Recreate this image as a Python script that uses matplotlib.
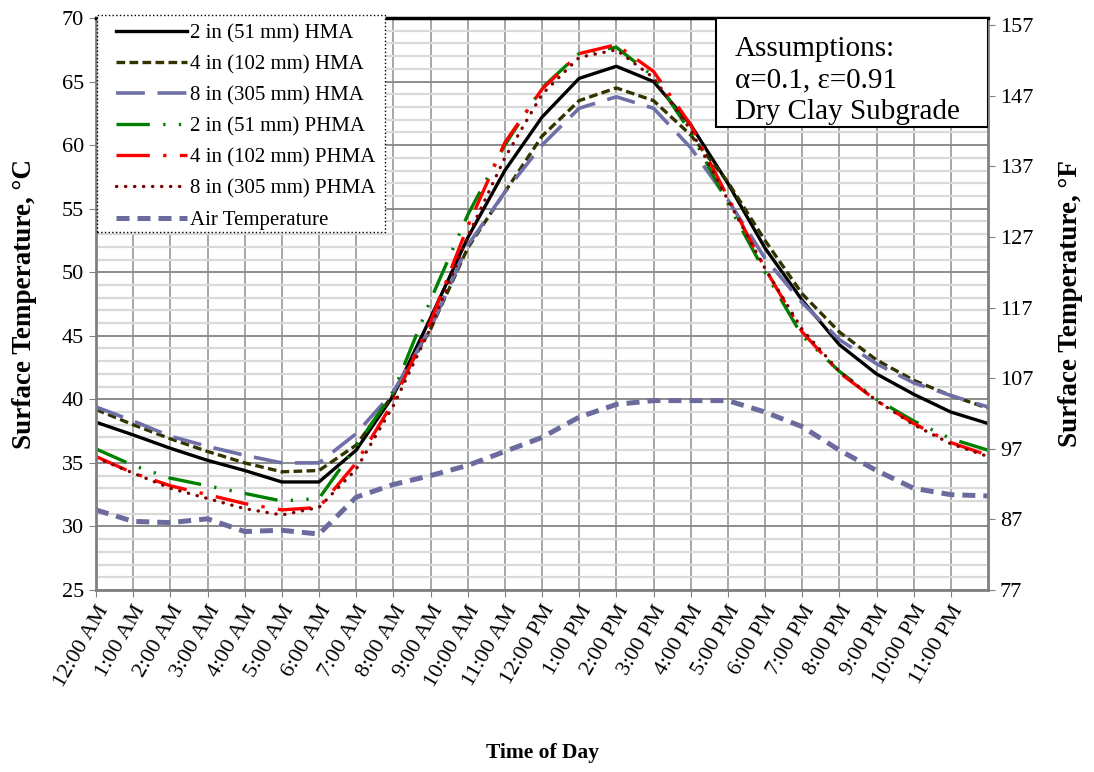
import numpy as np
import matplotlib.pyplot as plt
from matplotlib.patches import Rectangle

plt.rcParams['font.family'] = ['Liberation Serif', 'DejaVu Serif']

# hours of the day (0 = midnight, 24 = next midnight)
hours = np.arange(25)
hour_labels = ["12:00 AM", "1:00 AM", "2:00 AM", "3:00 AM", "4:00 AM", "5:00 AM",
               "6:00 AM", "7:00 AM", "8:00 AM", "9:00 AM", "10:00 AM", "11:00 AM",
               "12:00 PM", "1:00 PM", "2:00 PM", "3:00 PM", "4:00 PM", "5:00 PM",
               "6:00 PM", "7:00 PM", "8:00 PM", "9:00 PM", "10:00 PM", "11:00 PM"]

# surface temperatures, deg C
hma_2in = [38.2, 37.2, 36.15, 35.2, 34.4, 33.5, 33.5, 36.0, 40.3, 46.4, 52.7, 58.0, 62.2,
           65.25, 66.2, 65.0, 61.6, 57.0, 51.9, 47.8, 44.3, 42.0, 40.4, 39.0, 38.1]
hma_4in = [39.2, 38.0, 36.9, 35.9, 35.0, 34.3, 34.4, 36.4, 40.4, 45.5, 51.9, 56.3, 60.7,
           63.5, 64.5, 63.5, 60.8, 57.1, 52.5, 48.3, 45.3, 43.1, 41.5, 40.3, 39.3]
hma_8in = [39.4, 38.3, 37.1, 36.3, 35.6, 35.0, 35.0, 37.3, 40.6, 45.6, 52.1, 56.3, 60.0,
           62.9, 63.8, 62.9, 59.8, 55.7, 51.1, 47.6, 44.7, 42.8, 41.3, 40.3, 39.4]
phma_2in = [36.1, 34.8, 33.8, 33.2, 32.6, 32.0, 32.2, 36.3, 40.6, 47.8, 54.5, 60.0, 64.5,
            67.2, 67.7, 65.4, 61.0, 55.4, 50.0, 45.0, 42.2, 40.0, 38.3, 36.9, 36.0]
phma_4in = [35.5, 34.2, 33.2, 32.5, 31.8, 31.3, 31.5, 35.0, 39.8, 46.1, 53.6, 60.2, 64.4,
            67.2, 67.9, 65.8, 61.6, 55.9, 50.3, 45.3, 42.1, 39.9, 38.1, 36.6, 35.6]
phma_8in = [35.4, 34.2, 33.0, 32.2, 31.4, 30.9, 31.5, 34.5, 39.5, 45.6, 52.8, 59.0, 64.0,
            66.9, 67.5, 65.3, 61.2, 55.7, 50.3, 45.5, 42.2, 39.9, 38.0, 36.5, 35.5]
air_temp = [31.3, 30.4, 30.3, 30.6, 29.6, 29.7, 29.4, 32.3, 33.3, 34.0, 34.8, 35.9, 37.0,
            38.6, 39.6, 39.9, 39.9, 39.9, 39.0, 37.85, 36.0, 34.4, 33.0, 32.5, 32.4]

W, H = 1094, 772
fig = plt.figure(figsize=(W / 100, H / 100), dpi=100)
ax = fig.add_axes([96 / W, 1 - 590 / H, 892 / W, 572 / H])

# grid
ax.set_xlim(0, 24)
ax.set_ylim(25, 70)
ax.set_xticks(range(24))
ax.set_xticklabels(hour_labels, rotation=60, ha='right', va='top',
                   rotation_mode='anchor', fontsize=16)
ax.set_yticks(range(25, 71, 5))
ax.set_yticks(range(25, 71), minor=True)
ax.tick_params(axis='y', which='minor', length=0)
ax.tick_params(axis='both', which='major', direction='out', length=5,
               color='#808080', labelsize=16)
ax.grid(True, axis='y', which='minor', color='#d9d9d9', lw=1.6, zorder=0)
ax.grid(True, axis='y', which='major', color='#8c8c8c', lw=1.4, zorder=0)
ax.grid(True, axis='x', which='major', color='#a6a6a6', lw=1.4, zorder=0)
ax.set_axisbelow(True)

for s in ['left', 'bottom', 'right']:
    ax.spines[s].set_color('#808080')
    ax.spines[s].set_linewidth(2)
ax.spines['top'].set_color('black')
ax.spines['top'].set_linewidth(2.5)

ax.plot(hours, hma_2in, color='black', lw=2.4, label='2 in (51 mm) HMA')
ax.plot(hours, hma_4in, color='#333300', lw=2.4, dashes=(2.6, 1.3),
        label='4 in (102 mm) HMA')
ax.plot(hours, hma_8in, color='#7070a8', lw=2.6, dashes=(8, 3.5),
        label='8 in (305 mm) HMA')
ax.plot(hours, phma_2in, color='#008000', lw=2.4, dashes=(10, 4, 0.7, 4, 0.7, 4),
        label='2 in (51 mm) PHMA')
ax.plot(hours, phma_4in, color='#ff0000', lw=2.4, dashes=(10, 4, 1, 4),
        label='4 in (102 mm) PHMA')
ax.plot(hours, phma_8in, color='#800000', lw=2.4, dashes=(0.1, 2.6),
        dash_capstyle='round', label='8 in (305 mm) PHMA')
ax.plot(hours, air_temp, color='#6b6b9e', lw=3.6, dashes=(2.6, 1.6),
        label='Air Temperature')

ax.set_ylabel('Surface Temperature, \u00b0C', fontsize=19.5, fontweight='bold', labelpad=18)
ax.set_xlabel('Time of Day', fontsize=15.5, fontweight='bold', labelpad=38)

# right axis in deg F
ax2 = ax.twinx()
ax2.set_ylim(25 * 1.8 + 32, 70 * 1.8 + 32)
ax2.set_yticks(range(77, 158, 10))
ax2.tick_params(axis='y', direction='out', length=5, color='#808080', labelsize=16)
for s in ax2.spines.values():
    s.set_visible(False)
ax2.set_ylabel('Surface Temperature, \u00b0F', fontsize=19.5, fontweight='bold', labelpad=18)

# legend: dotted frame drawn separately so the padding matches the original
ax.add_patch(Rectangle((97 / W, 1 - 232 / H), 288 / W, 217 / H, transform=fig.transFigure,
                       facecolor='white', edgecolor='black', ls=':', lw=1.0,
                       zorder=4, clip_on=False))
leg = ax.legend(loc='upper left', bbox_to_anchor=(116 / W, 1 - 24 / H),
                bbox_transform=fig.transFigure, borderaxespad=0, borderpad=0,
                fontsize=15, handlelength=3.4, handletextpad=0.15,
                labelspacing=0.55, frameon=False)
leg.set_zorder(5)

# assumptions box
ax.add_patch(Rectangle((0.695, 0.8094), 0.305, 0.1906, transform=ax.transAxes,
                       facecolor='white', edgecolor='black', lw=1.5, zorder=6))
ax.text(0.716, 0.968, 'Assumptions:\n\u03b1=0.1, \u03b5=0.91\nDry Clay Subgrade',
        transform=ax.transAxes, ha='left', va='top', fontsize=21,
        linespacing=1.27, zorder=7)

fig.savefig('out.png', dpi=100)
